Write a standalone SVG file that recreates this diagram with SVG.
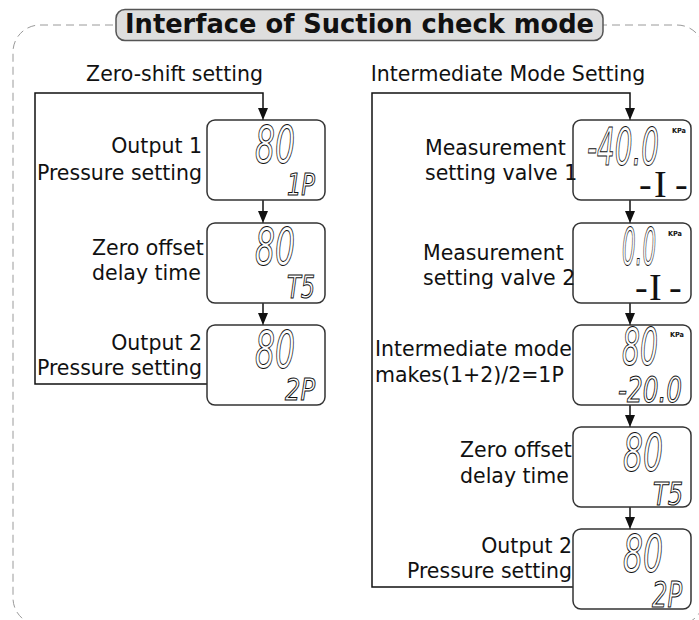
<svg xmlns="http://www.w3.org/2000/svg" width="699" height="620" viewBox="0 0 699 620">
<style>
.lbl{font-family:"DejaVu Sans","Verdana",sans-serif;font-size:20.5px;fill:#111}
.sec{font-family:"DejaVu Sans","Verdana",sans-serif;font-size:20.5px;fill:#111;text-anchor:middle}
.box{fill:#fff;stroke:#333;stroke-width:1.5}
.seg{font-family:"DejaVu Sans Condensed","DejaVu Sans",sans-serif;font-style:oblique;font-weight:normal;fill:#fff;stroke:#111;stroke-width:1}
.big{font-size:52px}
.ii{font-family:"Liberation Serif","Times New Roman",serif;font-size:38px;fill:#111}
.kpa{font-family:"DejaVu Sans Condensed","DejaVu Sans",sans-serif;font-weight:bold;font-size:7px;fill:#111}
.con{fill:none;stroke:#111;stroke-width:1.5}
</style>
<defs>
<marker id="ah" markerUnits="userSpaceOnUse" markerWidth="10" markerHeight="12" refX="12" refY="5" orient="auto">
<path d="M0,0 L12,5 L0,10 z" fill="#111"/>
</marker>
</defs>
<rect x="13" y="25" width="691" height="600" rx="27" fill="none" stroke="#9a9a9a" stroke-width="1" stroke-dasharray="8 5"/>
<g id="title">
<rect x="116" y="9.5" width="487" height="31" rx="9" fill="#dedede" stroke="#555" stroke-width="1.5"/>
<text x="359.5" y="33" font-family="DejaVu Sans,sans-serif" font-weight="bold" font-size="26" text-anchor="middle" textLength="469" lengthAdjust="spacingAndGlyphs" fill="#111">Interface of Suction check mode</text>
</g>
<text class="sec" x="174.5" y="81">Zero-shift setting</text>
<text class="sec" x="508" y="81">Intermediate Mode Setting</text>
<g id="connectors">
<polyline class="con" points="207,384 35,384 35,93 263,93 263,120" marker-end="url(#ah)"/>
<line class="con" x1="263" y1="200" x2="263" y2="223" marker-end="url(#ah)"/>
<line class="con" x1="263" y1="303" x2="263" y2="325" marker-end="url(#ah)"/>
<polyline class="con" points="573,587 372,587 372,93 630,93 630,120" marker-end="url(#ah)"/>
<line class="con" x1="630" y1="200" x2="630" y2="223" marker-end="url(#ah)"/>
<line class="con" x1="630" y1="303" x2="630" y2="325" marker-end="url(#ah)"/>
<line class="con" x1="630" y1="405" x2="630" y2="427" marker-end="url(#ah)"/>
<line class="con" x1="630" y1="507" x2="630" y2="529" marker-end="url(#ah)"/>
</g>
<g id="l1">
<rect class="box" x="207" y="120" width="118" height="80" rx="8"/>
<text class="seg big" x="255" y="163" textLength="40" lengthAdjust="spacingAndGlyphs">80</text>
<text class="seg" x="287" y="195" font-size="30" textLength="28" lengthAdjust="spacingAndGlyphs">1P</text>
<text class="lbl" x="202" y="153" text-anchor="end">Output 1</text>
<text class="lbl" x="202" y="180" text-anchor="end">Pressure setting</text>
</g>
<g id="l2">
<rect class="box" x="207" y="223" width="118" height="80" rx="8"/>
<text class="seg big" x="255" y="265" textLength="40" lengthAdjust="spacingAndGlyphs">80</text>
<text class="seg" x="287" y="298" font-size="32" textLength="28" lengthAdjust="spacingAndGlyphs">T5</text>
<text class="lbl" x="92" y="255">Zero offset</text>
<text class="lbl" x="92" y="280">delay time</text>
</g>
<g id="l3">
<rect class="box" x="207" y="325" width="118" height="80" rx="8"/>
<text class="seg big" x="255" y="368" textLength="40" lengthAdjust="spacingAndGlyphs">80</text>
<text class="seg" x="285" y="400" font-size="31" textLength="30" lengthAdjust="spacingAndGlyphs">2P</text>
<text class="lbl" x="202" y="350" text-anchor="end">Output 2</text>
<text class="lbl" x="202" y="375" text-anchor="end">Pressure setting</text>
</g>
<g id="r1">
<rect class="box" x="573" y="120" width="118" height="80" rx="8"/>
<text class="seg" x="587" y="165" font-size="51" textLength="72" lengthAdjust="spacingAndGlyphs">-40.0</text>
<text class="kpa" x="672" y="133" textLength="14" lengthAdjust="spacingAndGlyphs">KPa</text>
<text class="ii" y="197"><tspan x="639">-</tspan><tspan x="654">I</tspan><tspan x="675">-</tspan></text>
<text class="lbl" x="425" y="155">Measurement</text>
<text class="lbl" x="425" y="180">setting valve 1</text>
</g>
<g id="r2">
<rect class="box" x="573" y="223" width="118" height="80" rx="8"/>
<text class="seg" x="622" y="265" font-size="51" textLength="34" lengthAdjust="spacingAndGlyphs">0.0</text>
<text class="kpa" x="668" y="236" textLength="14" lengthAdjust="spacingAndGlyphs">KPa</text>
<text class="ii" y="300"><tspan x="635">-</tspan><tspan x="649">I</tspan><tspan x="669">-</tspan></text>
<text class="lbl" x="423" y="260">Measurement</text>
<text class="lbl" x="423" y="285">setting valve 2</text>
</g>
<g id="r3">
<rect class="box" x="573" y="325" width="118" height="80" rx="8"/>
<text class="seg big" x="622" y="365" textLength="36" lengthAdjust="spacingAndGlyphs">80</text>
<text class="kpa" x="670" y="337" textLength="14" lengthAdjust="spacingAndGlyphs">KPa</text>
<text class="seg" x="618" y="402" font-size="36" textLength="64" lengthAdjust="spacingAndGlyphs">-20.0</text>
<text class="lbl" x="375" y="356">Intermediate mode</text>
<text class="lbl" x="375" y="382">makes(1+2)/2=1P</text>
</g>
<g id="r4">
<rect class="box" x="573" y="427" width="118" height="80" rx="8"/>
<text class="seg big" x="623" y="471" textLength="40" lengthAdjust="spacingAndGlyphs">80</text>
<text class="seg" x="653" y="505" font-size="32" textLength="30" lengthAdjust="spacingAndGlyphs">T5</text>
<text class="lbl" x="460" y="457">Zero offset</text>
<text class="lbl" x="460" y="483">delay time</text>
</g>
<g id="r5">
<rect class="box" x="573" y="529" width="118" height="80" rx="8"/>
<text class="seg big" x="623" y="572" textLength="40" lengthAdjust="spacingAndGlyphs">80</text>
<text class="seg" x="652" y="607" font-size="36" textLength="30" lengthAdjust="spacingAndGlyphs">2P</text>
<text class="lbl" x="572" y="553" text-anchor="end">Output 2</text>
<text class="lbl" x="572" y="578" text-anchor="end">Pressure setting</text>
</g>
</svg>
